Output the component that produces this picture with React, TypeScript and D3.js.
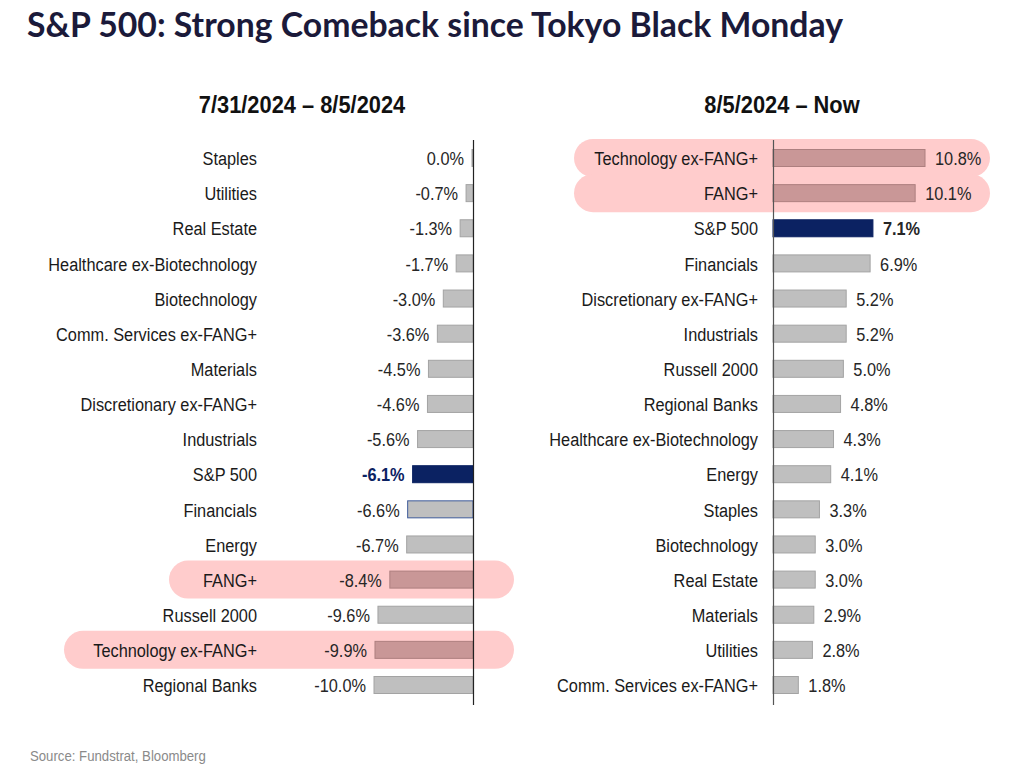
import React from "react";
import * as d3 from "d3";

const leftCategories = ["Staples","Utilities","Real Estate","Healthcare ex-Biotechnology","Biotechnology","Comm. Services ex-FANG+","Materials","Discretionary ex-FANG+","Industrials","S&P 500","Financials","Energy","FANG+","Russell 2000","Technology ex-FANG+","Regional Banks"];
const leftValues = [0.0,-0.7,-1.3,-1.7,-3.0,-3.6,-4.5,-4.6,-5.6,-6.1,-6.6,-6.7,-8.4,-9.6,-9.9,-10.0];
const rightCategories = ["Technology ex-FANG+","FANG+","S&P 500","Financials","Discretionary ex-FANG+","Industrials","Russell 2000","Regional Banks","Healthcare ex-Biotechnology","Energy","Staples","Biotechnology","Real Estate","Materials","Utilities","Comm. Services ex-FANG+"];
const rightValues = [10.8,10.1,7.1,6.9,5.2,5.2,5.0,4.8,4.3,4.1,3.3,3.0,3.0,2.9,2.8,1.8];
const highlighted = ["FANG+","Technology ex-FANG+"];
const benchmark = "S&P 500";

const W = 1024, H = 769;
const FONT = "'Liberation Sans', Arial, sans-serif";
const GRAY = "#BFBFBF", GRAY_S = "#A3A3A3";
const HL = "#C99797", HL_S = "#AD7F7F";
const NAVY = "#0B2262";
const PILL = "#FFCCCC";
const SX = 0.86;

function fmt(v: number) { return v.toFixed(1) + "%"; }

function NText(props: { x: number; y: number; anchor: "start" | "end" | "middle"; size: number; sx: number; weight?: number; fill: string; dy?: string; children: React.ReactNode }) {
  const { x, y, anchor, size, sx, weight = 400, fill, dy = "0", children } = props;
  return (
    <g transform={`translate(${x},${y}) scale(${sx},1)`}>
      <text x={0} y={0} dy={dy} textAnchor={anchor} fontFamily={FONT} fontSize={size} fontWeight={weight} fill={fill}>{children}</text>
    </g>
  );
}

export default function App() {
  const yL = d3.scalePoint<string>().domain(leftCategories).range([158, 685]);
  const yR = d3.scalePoint<string>().domain(rightCategories).range([158, 685]);
  const xL = d3.scaleLinear().domain([-10, 0]).range([374, 473]);
  const xR = d3.scaleLinear().domain([0, 10.8]).range([773, 925]);
  const bh = 17;

  const fillFor = (c: string) => c === benchmark ? NAVY : highlighted.includes(c) ? HL : GRAY;
  const strokeFor = (c: string) => c === benchmark ? NAVY : highlighted.includes(c) ? HL_S : GRAY_S;

  return (
    <svg width={W} height={H} style={{ display: "block", position: "absolute", left: 0, top: 0, background: "#fff" }}>
      <text x={27} y={37} fontFamily="Lato, 'Open Sans', sans-serif" fontWeight={700} fontSize={34} fill="#1B1A3A" textLength={816} lengthAdjust="spacingAndGlyphs">S&amp;P 500: Strong Comeback since Tokyo Black Monday</text>

      <NText x={302} y={113} anchor="middle" size={23} sx={0.95} weight={700} fill="#111">7/31/2024 – 8/5/2024</NText>
      <NText x={782} y={113} anchor="middle" size={23} sx={0.95} weight={700} fill="#111">8/5/2024 – Now</NText>

      {/* highlight pills */}
      {leftCategories.filter(c => highlighted.includes(c)).map(c => {
        const left = c === "FANG+" ? 169 : 64;
        return <rect key={"pl" + c} x={left} y={yL(c)! - 19} width={514 - left} height={38} rx={19} fill={PILL} />;
      })}
      {rightCategories.filter(c => highlighted.includes(c)).map(c => (
        <rect key={"pr" + c} x={574} y={yR(c)! - 19} width={416} height={38} rx={19} fill={PILL} />
      ))}

      {/* left panel */}
      {leftCategories.map((c, i) => {
        const v = leftValues[i];
        const y = yL(c)!;
        const x0 = xL(v);
        const w = Math.max(xL(0) - x0, 1);
        const isB = c === benchmark;
        return (
          <g key={"l" + c}>
            <NText x={257} y={y} dy="0.38em" anchor="end" size={19} sx={SX} fill="#1a1a1a">{c}</NText>
            <rect x={xL(0) - w} y={y - bh / 2} width={w} height={bh} fill={fillFor(c)} stroke={c === "Financials" ? "#3E5A9A" : strokeFor(c)} strokeWidth={1} />
            <NText x={xL(0) - w - 8} y={y} dy="0.38em" anchor="end" size={19} sx={SX} weight={isB ? 700 : 400} fill={isB ? NAVY : "#262626"}>{fmt(v)}</NText>
          </g>
        );
      })}
      <line x1={473.5} x2={473.5} y1={140} y2={705} stroke="#222" strokeWidth={1.2} />

      {/* right panel */}
      {rightCategories.map((c, i) => {
        const v = rightValues[i];
        const y = yR(c)!;
        const x1 = xR(v);
        const isB = c === benchmark;
        return (
          <g key={"r" + c}>
            <NText x={758} y={y} dy="0.38em" anchor="end" size={19} sx={SX} fill="#1a1a1a">{c}</NText>
            <rect x={xR(0)} y={y - bh / 2} width={x1 - xR(0)} height={bh} fill={fillFor(c)} stroke={strokeFor(c)} strokeWidth={1} />
            <NText x={x1 + 10} y={y} dy="0.38em" anchor="start" size={19} sx={SX} weight={isB ? 700 : 400} fill="#262626">{fmt(v)}</NText>
          </g>
        );
      })}
      <line x1={773.5} x2={773.5} y1={140} y2={705} stroke="#555" strokeWidth={1.2} />

      <NText x={30} y={761} anchor="start" size={15} sx={0.88} fill="#8A8A8A">Source: Fundstrat, Bloomberg</NText>
    </svg>
  );
}
